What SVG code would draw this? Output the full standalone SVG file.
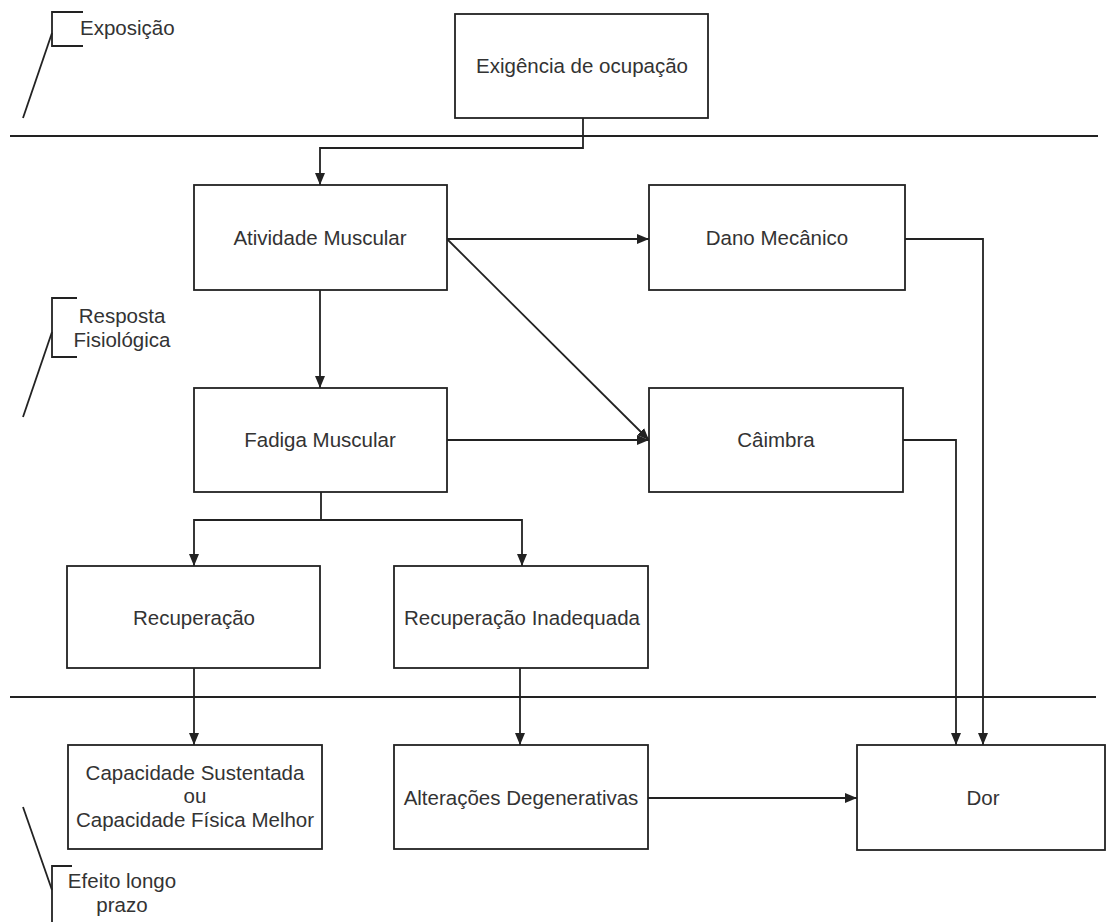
<svg xmlns="http://www.w3.org/2000/svg" width="1108" height="922" viewBox="0 0 1108 922">
<style>
.box{fill:#fff;stroke:#222;stroke-width:1.8}
.ln{fill:none;stroke:#222;stroke-width:1.8}
.t{font-family:"Liberation Sans",Arial,sans-serif;font-size:20.5px;fill:#333;text-anchor:middle}
.s{font-family:"Liberation Sans",Arial,sans-serif;font-size:20.5px;fill:#333}
</style>
<defs>
<marker id="ah" markerUnits="userSpaceOnUse" markerWidth="12" markerHeight="10" refX="12" refY="5" orient="auto">
<path d="M0,0 L12,5 L0,10 Z" fill="#222"/>
</marker>
</defs>
<g id="sections">
<line class="ln" x1="10" y1="136" x2="1098" y2="136"/>
<line class="ln" x1="10" y1="697" x2="1096" y2="697"/>
</g>
<g id="label-exposicao">
<path class="ln" d="M83,12 H52 V46 H83"/>
<line class="ln" x1="52" y1="33" x2="23" y2="118"/>
<text class="s" x="80" y="35">Exposição</text>
</g>
<g id="label-resposta">
<path class="ln" d="M77,298 H52 V357 H77"/>
<line class="ln" x1="52" y1="332" x2="23" y2="417"/>
<text class="t" x="122" y="323">Resposta</text>
<text class="t" x="122" y="347">Fisiológica</text>
</g>
<g id="label-efeito">
<path class="ln" d="M72,866 H52 V922"/>
<line class="ln" x1="52" y1="890" x2="23" y2="807"/>
<text class="t" x="122" y="888">Efeito longo</text>
<text class="t" x="122" y="912">prazo</text>
</g>
<g id="connectors">
<path class="ln" d="M583,118 V148 H320 V185" marker-end="url(#ah)"/>
<path class="ln" d="M447,239 H649" marker-end="url(#ah)"/>
<path class="ln" d="M447,239 L649,440" marker-end="url(#ah)"/>
<path class="ln" d="M320,290 V388" marker-end="url(#ah)"/>
<path class="ln" d="M447,440 H649" marker-end="url(#ah)"/>
<path class="ln" d="M321,492 V520 H194 V566" marker-end="url(#ah)"/>
<path class="ln" d="M321,520 H522 V566" marker-end="url(#ah)"/>
<path class="ln" d="M194,668 V745" marker-end="url(#ah)"/>
<path class="ln" d="M520,668 V745" marker-end="url(#ah)"/>
<path class="ln" d="M648,798 H857" marker-end="url(#ah)"/>
<path class="ln" d="M903,440 H956 V745" marker-end="url(#ah)"/>
<path class="ln" d="M905,239 H983 V745" marker-end="url(#ah)"/>
</g>
<g id="exigencia">
<rect class="box" x="455" y="14" width="253" height="104"/>
<text class="t" x="582" y="73">Exigência de ocupação</text>
</g>
<g id="atividade">
<rect class="box" x="194" y="185" width="253" height="105"/>
<text class="t" x="320" y="245">Atividade Muscular</text>
</g>
<g id="dano">
<rect class="box" x="649" y="185" width="256" height="105"/>
<text class="t" x="777" y="245">Dano Mecânico</text>
</g>
<g id="fadiga">
<rect class="box" x="194" y="388" width="253" height="104"/>
<text class="t" x="320" y="447">Fadiga Muscular</text>
</g>
<g id="caimbra">
<rect class="box" x="649" y="388" width="254" height="104"/>
<text class="t" x="776" y="447">Câimbra</text>
</g>
<g id="recuperacao">
<rect class="box" x="67" y="566" width="253" height="102"/>
<text class="t" x="194" y="625">Recuperação</text>
</g>
<g id="recuperacao-inadequada">
<rect class="box" x="394" y="566" width="254" height="102"/>
<text class="t" x="522" y="625">Recuperação Inadequada</text>
</g>
<g id="capacidade">
<rect class="box" x="68" y="745" width="254" height="104"/>
<text class="t" x="195" y="780">Capacidade Sustentada</text>
<text class="t" x="195" y="803">ou</text>
<text class="t" x="195" y="827">Capacidade Física Melhor</text>
</g>
<g id="alteracoes">
<rect class="box" x="394" y="745" width="254" height="104"/>
<text class="t" x="521" y="805">Alterações Degenerativas</text>
</g>
<g id="dor">
<rect class="box" x="857" y="745" width="248" height="105"/>
<text class="t" x="983" y="805">Dor</text>
</g>
</svg>
